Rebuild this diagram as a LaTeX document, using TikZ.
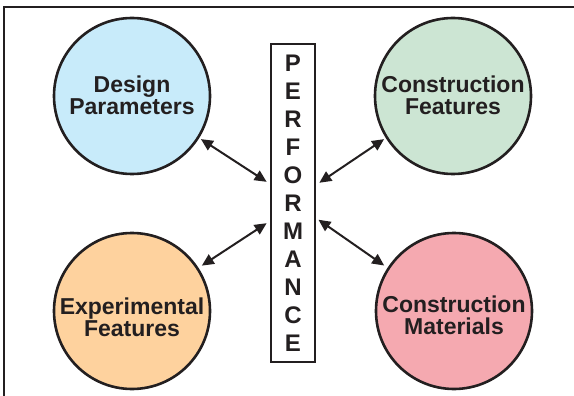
\documentclass[tikz,border=0pt]{standalone}
\usepackage{fontspec}
\setmainfont{Liberation Sans}
\usetikzlibrary{arrows.meta}
\definecolor{ink}{HTML}{231F20}
\definecolor{cblue}{HTML}{C8EBFA}
\definecolor{cgreen}{HTML}{CCE5D3}
\definecolor{corange}{HTML}{FED29E}
\definecolor{cpink}{HTML}{F5A9B0}
\tikzset{
  bubble/.style={circle, draw=ink, line width=2.6pt, minimum size=156pt, inner sep=0pt},
  bubbletext/.style={inner sep=0pt, align=center, text=ink, font=\fontsize{23}{22}\selectfont\bfseries},
  perfbox/.style={draw=ink, line width=2pt, fill=white, minimum width=44pt, minimum height=318pt,
    inner sep=0pt, align=center, text=ink, font=\fontsize{24}{28}\selectfont\bfseries},
  frameline/.style={draw=ink, line width=2pt},
  arr/.style={draw=ink, line width=2pt, {Triangle[length=12pt,width=11pt]}-{Triangle[length=12pt,width=11pt]}}
}
\begin{document}
\begin{tikzpicture}[x=1pt,y=-1pt]
\useasboundingbox (0,0) rectangle (574,396);
\coordinate (fa) at (4,397);
\coordinate (fb) at (4,7);
\coordinate (fc) at (575,7);
\draw[frameline] (fa) -- (fb) -- (fc);
\node[bubble, fill=cblue] (dp) at (132,96) {};
\node[bubble, fill=cgreen] (cf) at (453,96) {};
\node[bubble, fill=corange] (ef) at (132,311) {};
\node[bubble, fill=cpink] (cm) at (454,311) {};
\node[bubbletext] (dpt) at (132,95) {Design\\Parameters};
\node[bubbletext] (cft) at (453,95) {Construction\\Features};
\node[bubbletext] (eft) at (132,317) {Experimental\\Features};
\node[bubbletext] (cmt) at (454,315) {Construction\\Materials};
\node[perfbox] (perf) at (293,203) {P\\E\\R\\F\\O\\R\\M\\A\\N\\C\\E};
\draw[arr, shorten <=2pt, shorten >=4pt] (dp.-32) -- ([yshift=19pt]perf.west);
\draw[arr, shorten <=4pt, shorten >=4pt] (ef.33) -- ([yshift=-18pt]perf.west);
\draw[arr, shorten <=2pt, shorten >=4pt] (cf.212) -- ([yshift=18pt]perf.east);
\draw[arr, shorten <=4pt, shorten >=3pt] (cm.147) -- ([yshift=-15pt]perf.east);
\end{tikzpicture}
\end{document}
